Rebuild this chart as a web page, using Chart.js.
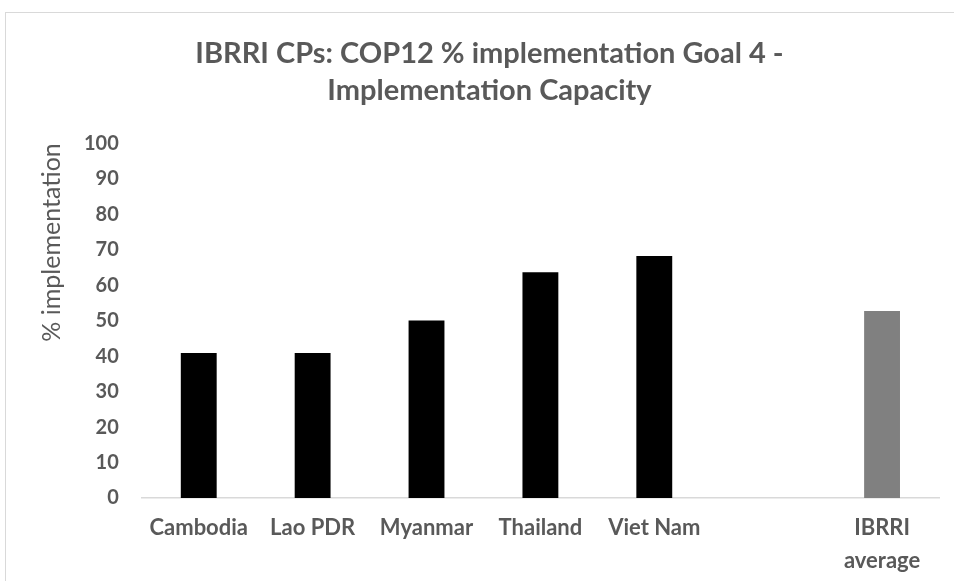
<!DOCTYPE html>
<html>
<head>
<meta charset="utf-8">
<script src="https://cdn.jsdelivr.net/npm/chart.js@4"></script>
<style>
  html, body { margin: 0; padding: 0; background: #fff; overflow: hidden; }
  #wrap { position: relative; width: 954px; height: 581px; overflow: hidden; }
  #frame { position: absolute; left: 5px; top: 12px; width: 1000px; height: 700px; border: 1px solid #d9d9d9; pointer-events: none; }
  canvas { position: absolute; left: 0; top: 0; }
</style>
</head>
<body>
<div id="wrap">
  <canvas id="chart" width="954" height="594"></canvas>
  <div id="frame"></div>
</div>
<script>
const categories = ["Cambodia", "Lao PDR", "Myanmar", "Thailand", "Viet Nam", "", ["IBRRI", "average"]];
const implementation = [40.9, 40.9, 50, 63.6, 68.2, null, 52.7];
const barColors = ["#000000", "#000000", "#000000", "#000000", "#000000", "#000000", "#808080"];
const yTicks = [0, 10, 20, 30, 40, 50, 60, 70, 80, 90, 100];

const textGrey = "#595959";
const fontFamily = "Lato, 'Open Sans', sans-serif";

document.addEventListener("DOMContentLoaded", () => {
  const ctx = document.getElementById("chart").getContext("2d");

  new Chart(ctx, {
    type: "bar",
    data: {
      labels: categories,
      datasets: [{
        label: "% implementation",
        data: implementation,
        backgroundColor: barColors,
        borderWidth: 0,
        categoryPercentage: 1,
        barPercentage: 0.315,
      }],
    },
    options: {
      responsive: false,
      animation: false,
      // left padding also shifts the title centre to where the original has it
      layout: { padding: { left: 40, right: 15, top: 0, bottom: 4 } },
      plugins: {
        legend: { display: false },
        tooltip: { enabled: false },
        title: {
          display: true,
          text: ["IBRRI CPs: COP12 % implementation Goal 4 -", "Implementation Capacity"],
          color: textGrey,
          font: { family: fontFamily, size: 29, weight: "bold", lineHeight: 1.28 },
          padding: { top: 35, bottom: 34 },
        },
      },
      scales: {
        x: {
          grid: { display: false, drawTicks: false },
          border: { display: true, color: "#d9d9d9", width: 1.5 },
          ticks: {
            color: textGrey,
            padding: 13,
            maxRotation: 0,
            autoSkip: false,
            font: { family: fontFamily, size: 22, weight: "bold", lineHeight: 1.5 },
          },
        },
        y: {
          min: 0,
          max: 100,
          afterBuildTicks: (axis) => { axis.ticks = yTicks.map((v) => ({ value: v })); },
          grid: { display: false, drawTicks: false },
          border: { display: false },
          ticks: {
            color: textGrey,
            padding: 23,
            font: { family: fontFamily, size: 20, weight: "bold" },
          },
          title: {
            display: true,
            text: "% implementation",
            align: "end",
            color: textGrey,
            padding: { top: -3, bottom: -6 },
            font: { family: fontFamily, size: 25, weight: "normal" },
          },
        },
      },
    },
  });
});
</script>
</body>
</html>
